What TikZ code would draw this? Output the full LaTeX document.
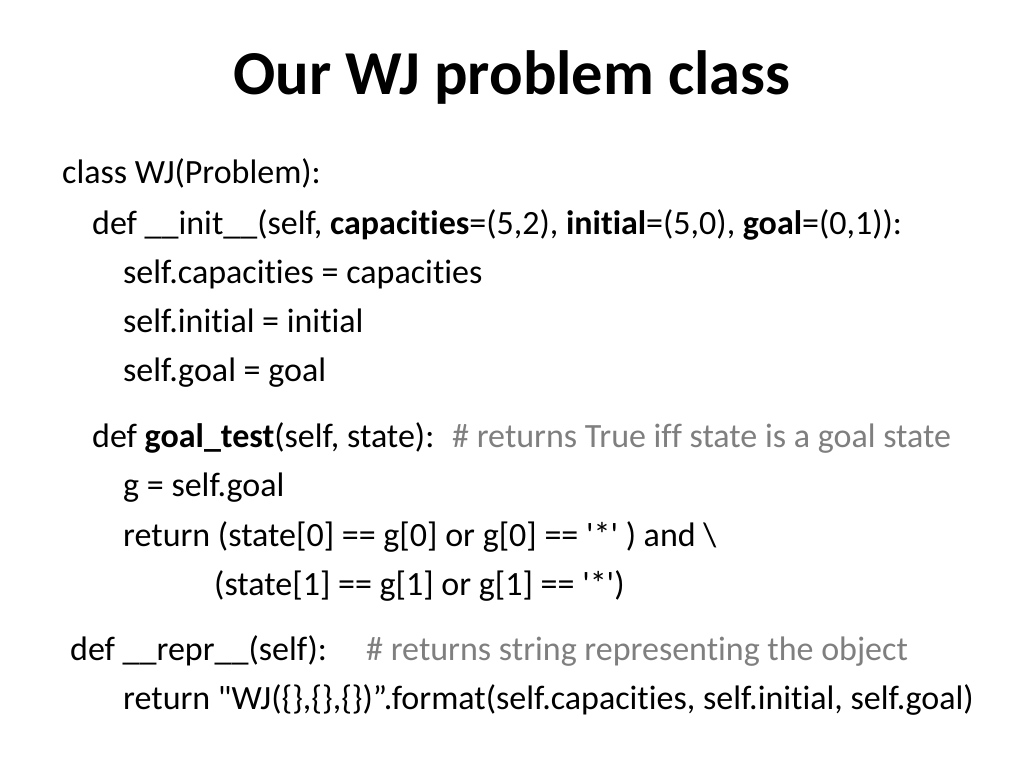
\documentclass[tikz,border=0pt]{standalone}
\usepackage{fontspec}
\setmainfont[Ligatures={NoCommon}]{Carlito}
\definecolor{cmt}{HTML}{7F7F7F}
\begin{document}
\begin{tikzpicture}[x=1pt,y=1pt,
  code/.style={anchor=base west,inner sep=0pt,font=\fontsize{34}{40}\selectfont},
  comment/.style={code,text=cmt}]
\useasboundingbox[fill=white] (0,0) rectangle (1024,-768);
\node[anchor=base,inner sep=0pt,font=\fontsize{62.5}{70}\selectfont\bfseries] (title) at (512,-94) {Our WJ problem class};
\node[code] (l1) at (62,-183) {class WJ(Problem):};
\node[code] (l2) at (92,-234) {def \_\_init\_\_(self, \textbf{capacities}=(5,2), \textbf{initial}=(5,0), \textbf{goal}=(0,1)):};
\node[code] (l3) at (123,-283) {self.capacities = capacities};
\node[code] (l4) at (123,-332) {self.initial = initial};
\node[code] (l5) at (123,-381) {self.goal = goal};
\node[code] (l6) at (92,-447) {def \textbf{goal\_test}(self, state):};
\node[comment] (c6) at (452,-447) {\# returns True iff state is a goal state};
\node[code] (l7) at (123,-496) {g = self.goal};
\node[code] (l8) at (123,-546) {return (state[0] == g[0] or g[0] == \textquotesingle*\textquotesingle\ ) and \textbackslash};
\node[code] (l9) at (214,-595) {(state[1] == g[1] or g[1] == \textquotesingle*\textquotesingle)};
\node[code] (l10) at (70,-660) {def \_\_repr\_\_(self):};
\node[comment] (c10) at (366,-660) {\# returns string representing the object};
\node[code] (l11) at (123,-709) {return \textquotedbl WJ(\{\},\{\},\{\})”.format(self.capacities, self.initial, self.goal)};
\end{tikzpicture}
\end{document}
